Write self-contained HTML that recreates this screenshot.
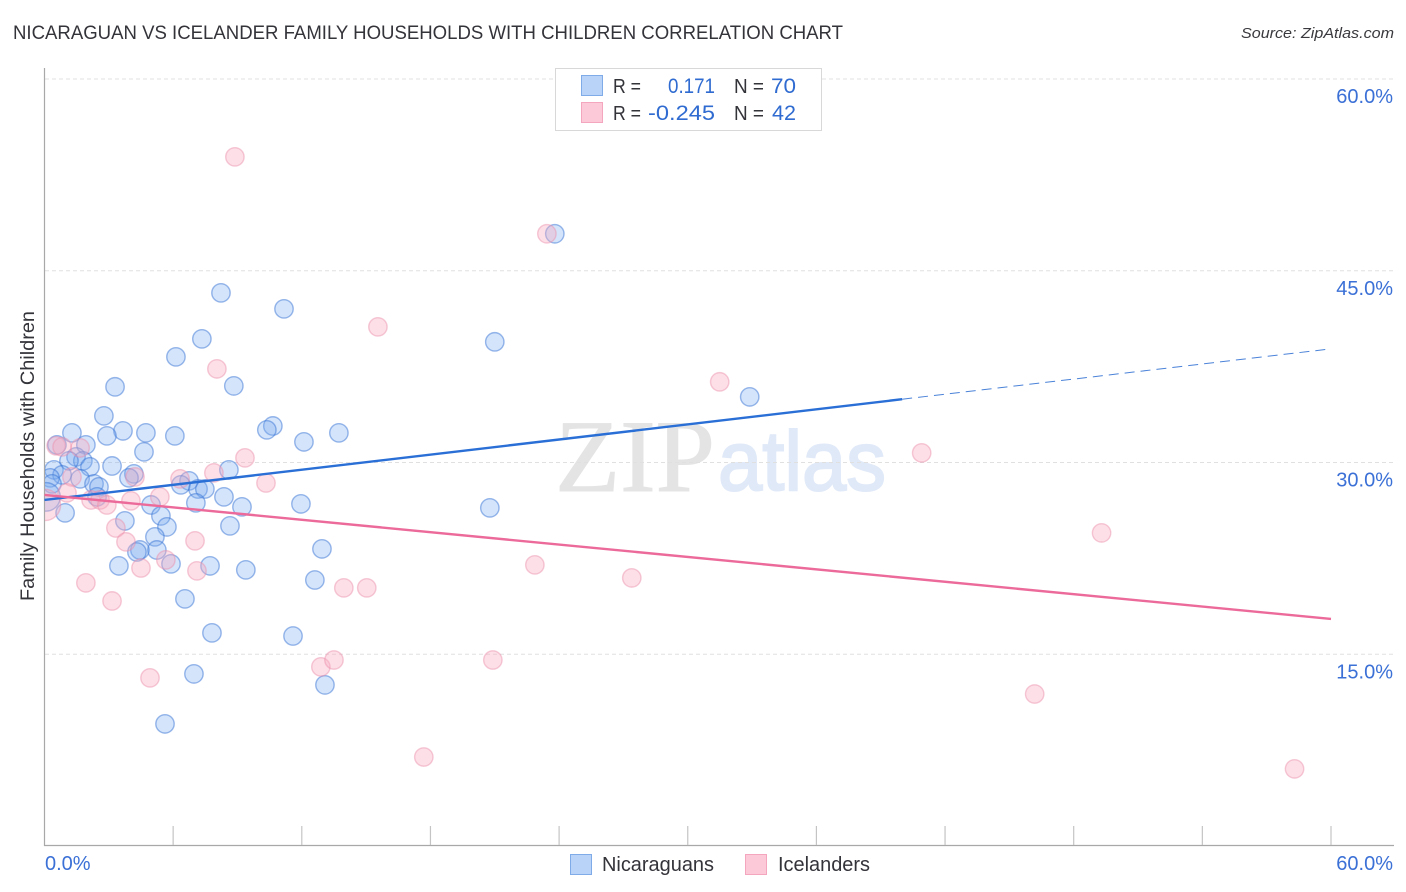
<!DOCTYPE html>
<html>
<head>
<meta charset="utf-8">
<title>Nicaraguan vs Icelander Family Households with Children Correlation Chart</title>
<style>
html,body{margin:0;padding:0;background:#fff}
svg{display:block}
text{font-family:"Liberation Sans",sans-serif}
</style>
</head>
<body>
<svg id="chart" width="1406" height="892" viewBox="0 0 1406 892" xmlns="http://www.w3.org/2000/svg">
  <defs>
    <clipPath id="plot-clip"><rect x="45" y="60" width="1349" height="785"/></clipPath>
  </defs>
  <text x="13" y="39" font-size="19" fill="#33333a" textLength="830" lengthAdjust="spacingAndGlyphs">NICARAGUAN VS ICELANDER FAMILY HOUSEHOLDS WITH CHILDREN CORRELATION CHART</text>
  <text x="1241" y="38" font-size="15" font-style="italic" fill="#3a3a3e" textLength="153" lengthAdjust="spacingAndGlyphs">Source: ZipAtlas.com</text>

  <g>
    <text x="555" y="491" style="font-family:'Liberation Serif',serif" font-size="103" fill="#e4e4e4" stroke="#e4e4e4" stroke-width="1" textLength="160" lengthAdjust="spacingAndGlyphs">ZIP</text>
    <text x="718" y="490" font-size="84" fill="#e0e9f8" stroke="#e0e9f8" stroke-width="2" textLength="168" lengthAdjust="spacingAndGlyphs">atlas</text>
  </g>

  <g id="grid"></g>
  <g id="axes"></g>
  <g id="y-labels"></g>
  <g id="x-labels"></g>
  <g id="points-blue" clip-path="url(#plot-clip)"></g>
  <g id="points-pink" clip-path="url(#plot-clip)"></g>
  <g id="trends"></g>

  <text transform="translate(34,601) rotate(-90)" font-size="19" fill="#33333a" textLength="290" lengthAdjust="spacingAndGlyphs">Family Households with Children</text>

  <g>
    <rect x="555.5" y="68.5" width="266" height="62" fill="#fff" stroke="#d8d8d8" stroke-width="1"/>
    <rect x="581.5" y="75.5" width="21" height="20" fill="#b9d3f8" stroke="#7fabe8"/>
    <rect x="581.5" y="102.5" width="21" height="20" fill="#fcc9d9" stroke="#f4a6bf"/>
    <text x="613" y="93" font-size="20" fill="#33333a" textLength="28" lengthAdjust="spacingAndGlyphs">R =</text>
    <text x="668" y="93" font-size="21" fill="#2f6bd0" textLength="47" lengthAdjust="spacingAndGlyphs">0.171</text>
    <text x="734" y="93" font-size="20" fill="#33333a" textLength="30" lengthAdjust="spacingAndGlyphs">N =</text>
    <text x="771" y="93" font-size="21" fill="#2f6bd0" textLength="25" lengthAdjust="spacingAndGlyphs">70</text>
    <text x="613" y="120" font-size="20" fill="#33333a" textLength="28" lengthAdjust="spacingAndGlyphs">R =</text>
    <text x="648" y="120" font-size="21" fill="#2f6bd0" textLength="67" lengthAdjust="spacingAndGlyphs">-0.245</text>
    <text x="734" y="120" font-size="20" fill="#33333a" textLength="30" lengthAdjust="spacingAndGlyphs">N =</text>
    <text x="772" y="120" font-size="21" fill="#2f6bd0" textLength="24" lengthAdjust="spacingAndGlyphs">42</text>
  </g>

  <g>
    <rect x="570.5" y="854.5" width="21" height="20" fill="#b9d3f8" stroke="#7fabe8"/>
    <text x="602" y="871" font-size="20" fill="#33333a" textLength="112" lengthAdjust="spacingAndGlyphs">Nicaraguans</text>
    <rect x="745.5" y="854.5" width="21" height="20" fill="#fcc9d9" stroke="#f4a6bf"/>
    <text x="778" y="871" font-size="20" fill="#33333a" textLength="92" lengthAdjust="spacingAndGlyphs">Icelanders</text>
  </g>
</svg>

<script>
const yTickValues = [15, 30, 45, 60];
const yTickLabels = ["15.0%", "30.0%", "45.0%", "60.0%"];
const xTickValues = [0, 6, 12, 18, 24, 30, 36, 42, 48, 54, 60];
const xEndValues = [0, 60];
const xEndLabels = ["0.0%", "60.0%"];

const nicaraguanX = [8.23,11.17,7.34,21.0,6.13,3.29,8.83,32.89,2.77,10.65,10.37,3.66,2.91,4.73,6.08,13.73,1.28,12.10,1.93,0.58,4.64,1.47,1.79,1.14,0.44,2.12,3.15,8.60,4.17,3.94,0.82,1.66,0.26,0.35,2.31,2.54,6.74,6.36,7.16,7.48,2.45,8.37,4.97,7.06,11.96,20.77,9.21,0.96,5.43,3.75,5.71,8.65,5.15,12.94,5.24,4.45,4.31,3.47,5.90,7.72,9.39,12.61,6.55,7.81,11.59,6.97,13.08,5.62,23.80,0.07];
const nicaraguanY = [43.27,42.02,39.67,39.44,38.26,35.92,35.99,35.13,33.65,32.86,32.55,32.47,32.08,32.32,32.08,32.32,32.32,31.61,31.38,31.38,30.83,30.44,30.13,30.13,29.42,29.66,29.73,29.42,29.11,28.80,29.03,28.72,28.80,28.33,28.33,28.09,28.56,28.25,27.93,27.93,27.31,27.31,26.68,26.84,26.76,26.45,26.53,26.06,25.82,25.43,24.96,25.04,24.18,23.24,23.16,23.16,23.00,21.91,22.07,21.91,21.60,20.81,19.33,16.67,16.43,13.46,12.60,9.55,47.89,27.31];
const nicaraguanWeight = [1,1,1,1,1,1,1,1,1,1,1,1,1,1,1,1,1,1,1,1,1,1,1,1,1,1,1,1,1,1,1,1,1,1,1,1,1,1,1,1,1,1,1,1,1,1,1,1,1,1,1,1,1,1,1,1,1,1,1,1,1,1,1,1,1,1,1,1,1,1.55];

const icelanderX = [8.88,23.43,15.55,8.04,31.49,40.91,9.35,0.54,0.82,1.66,1.28,4.22,6.32,7.90,10.33,1.05,5.38,4.03,2.17,2.59,2.91,3.33,3.80,7.02,5.66,4.50,7.11,1.93,3.15,4.92,13.96,15.03,22.87,27.39,49.30,12.89,13.50,20.91,46.18,17.69,58.30,0.02];
const icelanderY = [53.91,47.89,40.61,37.32,36.31,30.75,30.36,31.30,31.22,31.14,28.87,28.87,28.72,29.19,28.40,27.62,27.31,27.00,27.07,27.07,26.68,24.88,23.79,23.87,22.38,21.75,21.52,20.58,19.17,13.15,20.19,20.19,21.99,20.97,24.49,14.01,14.55,14.55,11.89,6.96,6.03,26.68];
const icelanderWeight = [1,1,1,1,1,1,1,1,1,1,1,1,1,1,1,1,1,1,1,1,1,1,1,1,1,1,1,1,1,1,1,1,1,1,1,1,1,1,1,1,1,1.7];

const nicaraguanTrendX = [0, 40, 60];
const nicaraguanTrendY = [27.07, 34.95, 38.89];
const icelanderTrendX = [0, 60];
const icelanderTrendY = [27.46, 17.76];

const NS = "http://www.w3.org/2000/svg";
function sx(v) { return 44.5 + v * (1331 - 44.5) / 60; }
function sy(v) { return 846 - v * (846 - 79) / 60; }
function mk(parentId, tag, attrs) {
  const el = document.createElementNS(NS, tag);
  for (const k in attrs) el.setAttribute(k, attrs[k]);
  document.getElementById(parentId).appendChild(el);
  return el;
}

yTickValues.forEach(function (v, i) {
  const g = mk("grid", "line", { x1: 45, x2: 1394, y1: sy(v), y2: sy(v), stroke: "#e0e0e0", "stroke-width": 1, "stroke-dasharray": "4 3" });
  
  
  const t = mk("y-labels", "text", { x: 1393, y: sy(v) + 24, "font-size": 20, fill: "#3b70d6", "text-anchor": "end" });
  t.textContent = yTickLabels[i];
  
  
});

const yAxis = mk("axes", "line", { x1: 44.5, x2: 44.5, y1: 68, y2: 846, stroke: "#a8a8a8", "stroke-width": 1.2 });


const xAxis = mk("axes", "line", { x1: 44, x2: 1394, y1: 845.5, y2: 845.5, stroke: "#a8a8a8", "stroke-width": 1.2 });



xTickValues.forEach(function (v) {
  if (v === 0) return;
  const tk = mk("axes", "line", { x1: sx(v), x2: sx(v), y1: 826, y2: 845, stroke: "#c4c4c4", "stroke-width": 1.2 });
  
  
});

xEndValues.forEach(function (v, i) {
  const anchor = i === 0 ? "start" : "end";
  const px = i === 0 ? sx(v) + 0.5 : 1393;
  const t = mk("x-labels", "text", { x: px, y: 870, "font-size": 20, fill: "#3b70d6", "text-anchor": anchor });
  t.textContent = xEndLabels[i];
  
  
});

nicaraguanX.forEach(function (v, i) {
  const c = mk("points-blue", "circle", { cx: sx(v), cy: sy(nicaraguanY[i]), r: 9.2 * nicaraguanWeight[i], fill: "rgba(122,172,238,0.32)", stroke: "rgba(56,116,214,0.5)", "stroke-width": 1.4 });
  
  
});

icelanderX.forEach(function (v, i) {
  const c = mk("points-pink", "circle", { cx: sx(v), cy: sy(icelanderY[i]), r: 9.2 * icelanderWeight[i], fill: "rgba(248,170,192,0.38)", stroke: "rgba(236,140,168,0.45)", "stroke-width": 1.4 });
  
  
});

const blueSolid = mk("trends", "line", { x1: sx(nicaraguanTrendX[0]), y1: sy(nicaraguanTrendY[0]), x2: sx(nicaraguanTrendX[1]), y2: sy(nicaraguanTrendY[1]), stroke: "#2a6fd6", "stroke-width": 2.4 });


const blueDash = mk("trends", "line", { x1: sx(nicaraguanTrendX[1]), y1: sy(nicaraguanTrendY[1]), x2: sx(nicaraguanTrendX[2]), y2: sy(nicaraguanTrendY[2]), stroke: "#4a82d8", "stroke-width": 1, "stroke-dasharray": "10 6" });


const pinkLine = mk("trends", "line", { x1: sx(icelanderTrendX[0]), y1: sy(icelanderTrendY[0]), x2: sx(icelanderTrendX[1]), y2: sy(icelanderTrendY[1]), stroke: "#ec6a9a", "stroke-width": 2.4 });


</script>
</body>
</html>
